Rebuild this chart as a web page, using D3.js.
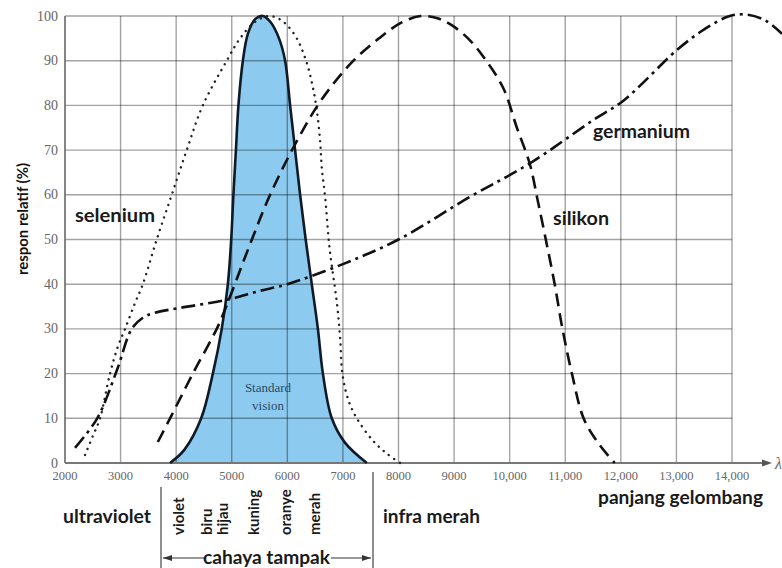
<!DOCTYPE html>
<html><head><meta charset="utf-8">
<script src="https://cdn.jsdelivr.net/npm/d3@7"></script>
<style>html,body{margin:0;padding:0;background:#fff;}svg{display:block;}</style>
</head><body>
<div id="chart"></div>
<script>
// ---- data ----
const xTicks = [2000,3000,4000,5000,6000,7000,8000,9000,10000,11000,12000,13000,14000];
const xTickLabels = ["2000","3000","4000","5000","6000","7000","8000","9000","10,000","11,000","12,000","13,000","14,000"];
const yTicks = [0,10,20,30,40,50,60,70,80,90,100];

const standardVision = [[3890,0],[4150,3],[4450,10],[4660,20],[4820,30],[4930,40],[4990,50],[5030,60],[5075,70],[5120,80],[5200,90],[5290,96],[5420,99.3],[5560,100],[5700,98.6],[5850,95],[5960,90],[6050,80],[6140,70],[6230,60],[6330,50],[6440,40],[6550,30],[6640,20],[6800,10],[7040,4.5],[7430,0]];
const selenium = [[2360,1.8],[2500,6],[2630,10],[2810,20],[2950,26],[3080,30],[3260,35.8],[3400,40],[3650,50],[3920,60],[4190,70],[4480,80],[4910,90],[5150,95],[5400,98.5],[5650,100],[5830,99.5],[5990,98],[6170,95],[6350,89.5],[6460,84],[6530,79],[6590,72],[6620,66],[6680,59.5],[6760,48],[6890,36],[6950,28],[6990,20],[7100,14],[7250,10],[7540,5],[7800,2],[8030,0]];
const silikon = [[3670,4.7],[3890,10],[4300,20],[4730,30],[4900,35],[5300,48],[5690,60],[6170,72],[6600,81],[7150,89.5],[7650,95],[8050,98.5],[8400,100],[8700,99.5],[8950,98],[9250,95],[9520,91],[9880,84],[10130,75],[10360,67],[10500,59],[10650,50],[10810,40],[10950,30],[11120,20],[11330,10],[11590,4.5],[11890,0]];
const germanium = [[2180,3.4],[2580,10],[2935,20.8],[3200,30],[3400,32.5],[3580,33.5],[4070,34.7],[4910,36.5],[5500,38.5],[6000,40],[7000,44.5],[8000,50],[9280,59.5],[10360,67],[11500,76.7],[12040,81],[13010,92.4],[13500,97],[13960,100],[14270,100.3],[14600,99],[14900,96]];

const curveLabels = [
  {text:"selenium", x:75, y:222, len:80},
  {text:"silikon", x:553, y:225, len:56},
  {text:"germanium", x:593, y:138, len:97}
];
const bandLabels = [
  {text:"ultraviolet", x:63, y:523, len:88},
  {text:"infra merah", x:383, y:523, len:97},
  {text:"panjang gelombang", x:598, y:504, len:165}
];
const colorNames = ["violet","biru","hijau","kuning","oranye","merah"];
const colorNameX = [179,207,223,254,286,315];

// ---- drawing ----
const W = 782, H = 568;
const svg = d3.select("#chart").append("svg").attr("width", W).attr("height", H);
svg.append("rect").attr("width", W).attr("height", H).attr("fill", "#fff");

const x = d3.scaleLinear().domain([2000,14000]).range([65,732]);
const y = d3.scaleLinear().domain([0,100]).range([463,16]);

const curve = d3.curveCatmullRom.alpha(0.5);
const line = d3.line().x(d=>x(d[0])).y(d=>y(d[1])).curve(curve);
const area = d3.area().x(d=>x(d[0])).y0(y(0)).y1(d=>y(d[1])).curve(curve);

// fill of standard vision
svg.append("path").datum(standardVision).attr("d", area).attr("fill", "#8ccbef");

// grid
const grid = svg.append("g");
grid.selectAll("line.v").data(xTicks).join("line")
  .attr("x1", d=>x(d)).attr("x2", d=>x(d)).attr("y1", y(100)).attr("y2", y(0))
  .attr("stroke", "rgba(0,0,0,0.36)").attr("stroke-width", 1.4);
grid.selectAll("line.h").data(yTicks.filter(d=>d>0)).join("line")
  .attr("x1", x(2000)).attr("x2", x(14000)).attr("y1", d=>y(d)).attr("y2", d=>y(d))
  .attr("stroke", "rgba(0,0,0,0.36)").attr("stroke-width", 1.4);

// axes lines
svg.append("line").attr("x1", x(2000)).attr("x2", x(2000)).attr("y1", y(100)).attr("y2", y(0))
  .attr("stroke", "#777").attr("stroke-width", 1.6);
svg.append("line").attr("x1", x(2000)).attr("x2", 766).attr("y1", y(0)).attr("y2", y(0))
  .attr("stroke", "#777").attr("stroke-width", 2);
svg.append("path").attr("d", `M772,${y(0)} L762,${y(0)-3.5} L762,${y(0)+3.5} Z`).attr("fill", "#555");
svg.append("text").attr("x", 775).attr("y", y(0)+6).text("λ")
  .attr("font-family", "Liberation Serif, serif").attr("font-style", "italic").attr("font-size", 16).attr("fill", "#666");

// tick labels
svg.append("g").selectAll("text").data(yTicks).join("text")
  .attr("x", 58).attr("y", d=>y(d)+4.5).attr("text-anchor", "end")
  .attr("font-family", "Liberation Serif, serif").attr("font-size", 14).attr("fill", "#666").text(d=>d);
svg.append("g").selectAll("text").data(xTicks).join("text")
  .attr("x", d=>x(d)).attr("y", 480).attr("text-anchor", "middle")
  .attr("font-family", "Liberation Serif, serif").attr("font-size", 12.5).attr("fill", "#666")
  .text((d,i)=>xTickLabels[i]);

// curves
svg.append("path").datum(standardVision).attr("d", line).attr("fill", "none")
  .attr("stroke", "#0e1a28").attr("stroke-width", 2.6);
svg.append("path").datum(selenium).attr("d", line).attr("fill", "none")
  .attr("stroke", "#222").attr("stroke-width", 2.4).attr("stroke-linecap", "round")
  .attr("stroke-dasharray", "0.1 6.5");
svg.append("path").datum(silikon).attr("d", line).attr("fill", "none")
  .attr("stroke", "#111").attr("stroke-width", 2.6).attr("stroke-dasharray", "13 7");
svg.append("path").datum(germanium).attr("d", line).attr("fill", "none")
  .attr("stroke", "#111").attr("stroke-width", 2.6).attr("stroke-dasharray", "14 5 3 5");

// standard vision text
svg.append("text").attr("x", 268).attr("y", 392).attr("text-anchor", "middle")
  .attr("font-family", "Liberation Serif, serif").attr("font-size", 13).attr("fill", "#2b4a68").text("Standard");
svg.append("text").attr("x", 268).attr("y", 410).attr("text-anchor", "middle")
  .attr("font-family", "Liberation Serif, serif").attr("font-size", 13).attr("fill", "#2b4a68").text("vision");

// y axis title
svg.append("text").attr("transform", "translate(28,219) rotate(-90)").attr("text-anchor", "middle")
  .attr("font-family", "Lato, sans-serif").attr("font-weight", "bold").attr("font-size", 15)
  .attr("fill", "#111").attr("textLength", 112).attr("lengthAdjust", "spacingAndGlyphs")
  .text("respon relatif (%)");

const bold = sel => sel.attr("font-family", "Lato, sans-serif").attr("font-weight", "bold").attr("fill", "#1a1a1a");
svg.append("g").selectAll("text").data(curveLabels.concat(bandLabels)).join("text")
  .attr("x", d=>d.x).attr("y", d=>d.y).attr("font-size", 19)
  .attr("textLength", d=>d.len).attr("lengthAdjust", "spacingAndGlyphs")
  .call(bold).text(d=>d.text);

// color names (rotated)
svg.append("g").selectAll("text").data(colorNames).join("text")
  .attr("transform", (d,i)=>`translate(${colorNameX[i]+5},535) rotate(-90)`)
  .attr("font-size", 15).call(bold).text(d=>d);

// visible light bracket
svg.append("line").attr("x1", 161).attr("x2", 161).attr("y1", 487).attr("y2", 568).attr("stroke", "#444").attr("stroke-width", 1.2);
svg.append("line").attr("x1", 373).attr("x2", 373).attr("y1", 472).attr("y2", 568).attr("stroke", "#444").attr("stroke-width", 1.2);
svg.append("line").attr("x1", 163).attr("x2", 205).attr("y1", 558).attr("y2", 558).attr("stroke", "#333").attr("stroke-width", 1.2);
svg.append("line").attr("x1", 331).attr("x2", 371).attr("y1", 558).attr("y2", 558).attr("stroke", "#333").attr("stroke-width", 1.2);
svg.append("path").attr("d", "M163,558 L172,555 L172,561 Z").attr("fill", "#333");
svg.append("path").attr("d", "M371,558 L362,555 L362,561 Z").attr("fill", "#333");
svg.append("text").attr("x", 203).attr("y", 564).attr("font-size", 19)
  .attr("textLength", 127).attr("lengthAdjust", "spacingAndGlyphs").call(bold).text("cahaya tampak");
</script>
</body></html>
